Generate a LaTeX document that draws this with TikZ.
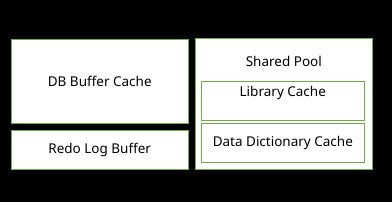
\documentclass[tikz,border=0pt]{standalone}
\usepackage{fontspec}
\setmainfont{Noto Sans}
\definecolor{boxgreen}{HTML}{70AD47}
\begin{document}
\begin{tikzpicture}[x=1pt,y=-1pt,
  box/.style={draw=boxgreen,fill=white,line width=0.9pt},
  lbl/.style={font=\fontsize{13.5}{16}\selectfont,text=black,inner sep=0pt}]
\fill[black] (0,0) rectangle (392,202);
\useasboundingbox (0,0) rectangle (392,202);
\draw[box] (11,39) rectangle (188.5,123.3) node[pos=.5,lbl] (db) {DB Buffer Cache};
\draw[box] (11,130) rectangle (188.5,169.3) node[pos=.5,lbl] (redo) {Redo Log Buffer};
\draw[box] (195,38.5) rectangle (372.5,169.3);
\node[lbl] (sp) at (283.8,61) {Shared Pool};
\draw[box] (201,81) rectangle (364.7,120.3);
\node[lbl] (lib) at (282.8,92.5) {Library Cache};
\draw[box] (201,123.5) rectangle (364.7,162.3) node[pos=.5,lbl] (dd) {Data Dictionary Cache};
\end{tikzpicture}
\end{document}
